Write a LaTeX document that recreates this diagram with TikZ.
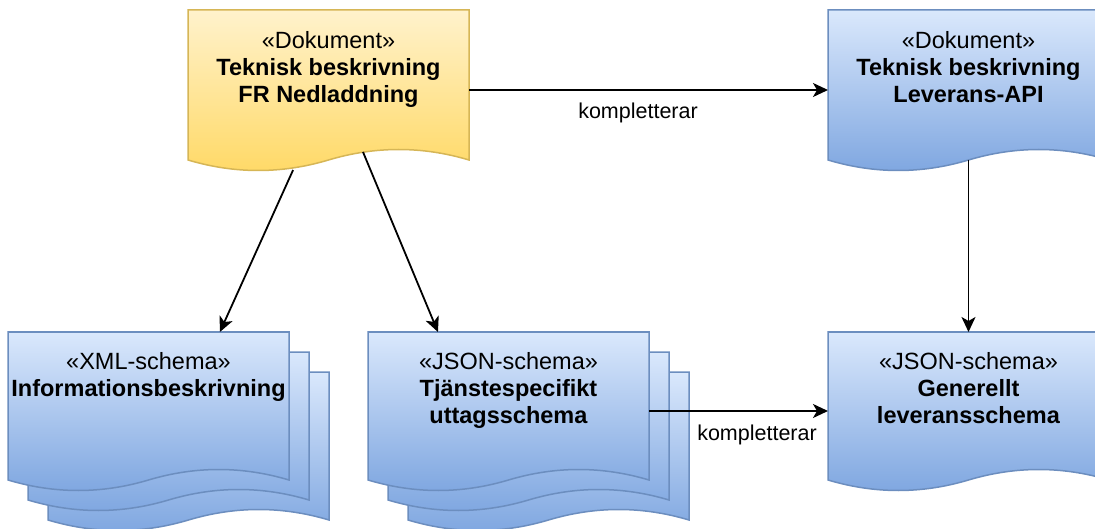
\documentclass[tikz,border=0pt]{standalone}
\usepackage{fontspec}
\setmainfont{Liberation Sans}
\usetikzlibrary{calc,arrows.meta}
\definecolor{ytop}{HTML}{FFF2CC}
\definecolor{ybot}{HTML}{FFD966}
\definecolor{yline}{HTML}{D6B656}
\definecolor{btop}{HTML}{DAE8FC}
\definecolor{bbot}{HTML}{7EA6E0}
\definecolor{bline}{HTML}{6C8EBF}
% #1 style, #2 x0, #3 y0, #4 x1, #5 wave base y
\newcommand\docshape[5]{%
  \path[#1] (#2,#3) -- (#4,#3) -- (#4,#5)
    .. controls ({#4-(#4-#2)/6},{#5-14}) and ({(#2+#4)/2+(#4-#2)/6},{#5-14}) .. ({(#2+#4)/2},#5)
    .. controls ({(#2+#4)/2-(#4-#2)/6},{#5+14}) and ({#2+(#4-#2)/6},{#5+14}) .. (#2,#5) -- cycle;}
\tikzset{
  ydoc/.style={draw=yline, line width=1.5pt, top color=ytop, bottom color=ybot},
  bdoc/.style={draw=bline, line width=1.5pt, top color=btop, bottom color=bbot},
  anchorbox/.style={draw=none, rectangle, inner sep=0pt, outer sep=0pt, minimum width=281pt},
  ttl/.style={anchor=base, inner sep=0pt, font=\fontsize{23.5}{27}\selectfont},
  lbl/.style={anchor=base, inner sep=0pt, font=\fontsize{21.5}{25}\selectfont},
  arr/.style={line width=1.8pt, -{Stealth[length=15pt,width=14pt,inset=4pt]}}
}
\setlength{\tabcolsep}{0pt}
\begin{document}
\begin{tikzpicture}[x=1pt,y=-1pt]
\useasboundingbox (0,0) rectangle (1095,529);
\clip (0,0) rectangle (1095,529);
% shapes
\docshape{ydoc}{188}{10}{469}{160}
\docshape{bdoc}{828}{10}{1109}{160}
\docshape{bdoc}{828}{332}{1109}{480}
\docshape{bdoc}{48}{372}{329}{520}
\docshape{bdoc}{28}{352}{309}{500}
\docshape{bdoc}{8}{332}{289}{480}
\docshape{bdoc}{408}{372}{689}{520}
\docshape{bdoc}{388}{352}{669}{500}
\docshape{bdoc}{368}{332}{649}{480}
% anchor boxes
\node[anchorbox, minimum height=160pt] (fr) at (328.5,90) {};
\node[anchorbox, minimum height=160pt] (lev) at (968.5,90) {};
\node[anchorbox, minimum height=158pt] (gen) at (968.5,411) {};
\node[anchorbox, minimum height=158pt] (xml) at (148.5,411) {};
\node[anchorbox, minimum height=158pt] (json) at (508.5,411) {};
% texts
\node[ttl] (fr-t) at (328.5,48.5) {\begin{tabular}[t]{c}«Dokument»\\\textbf{Teknisk beskrivning}\\\textbf{FR Nedladdning}\end{tabular}};
\node[ttl] (lev-t) at (968.5,48.5) {\begin{tabular}[t]{c}«Dokument»\\\textbf{Teknisk beskrivning}\\\textbf{Leverans-API}\end{tabular}};
\node[ttl] (xml-t) at (148.5,369.5) {\begin{tabular}[t]{c}«XML-schema»\\\textbf{Informationsbeskrivning}\end{tabular}};
\node[ttl] (json-t) at (508.5,369.5) {\begin{tabular}[t]{c}«JSON-schema»\\\textbf{Tjänstespecifikt}\\\textbf{uttagsschema}\end{tabular}};
\node[ttl] (gen-t) at (968.5,369.5) {\begin{tabular}[t]{c}«JSON-schema»\\\textbf{Generellt}\\\textbf{leveransschema}\end{tabular}};
% connectors
\draw[arr] (fr.east) -- (lev.west);
\draw[arr] ($(fr.south west)!0.374!(fr.south east)$) -- ($(xml.north west)!0.754!(xml.north east)$);
\draw[arr] ($(fr.south)+(34.5,-18)$) -- ($(json.north west)!0.249!(json.north east)$);
\draw[arr] ($(lev.south)+(0,-10)$) -- (gen.north);
\draw[arr] (json.east) -- (gen.west);
\node[lbl] (l1) at (638,119) {kompletterar};
\node[lbl] (l2) at (757,440) {kompletterar};
\end{tikzpicture}
\end{document}
